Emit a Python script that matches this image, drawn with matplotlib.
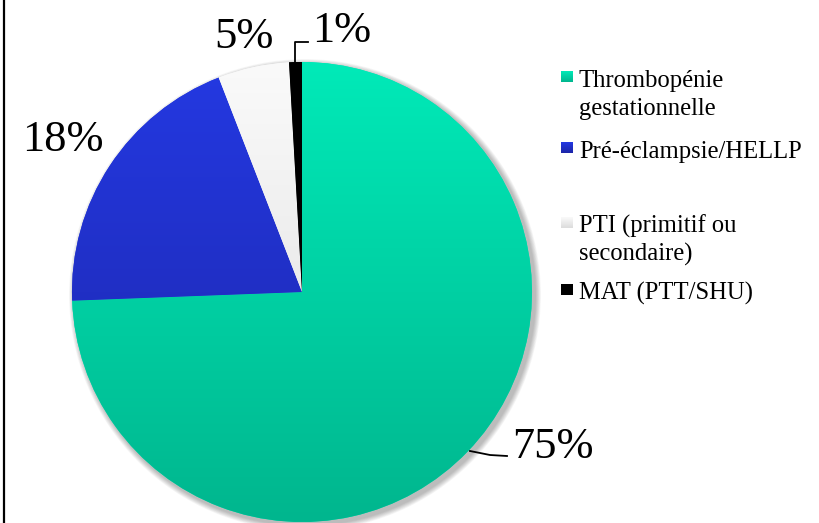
import numpy as np
import matplotlib
matplotlib.use("Agg")
from matplotlib import pyplot as plt
from matplotlib.patches import Circle
from matplotlib.colors import LinearSegmentedColormap
from matplotlib.lines import Line2D

# data
categories = ["Thrombopénie\ngestationnelle", "Pré-éclampsie/HELLP",
              "PTI (primitif ou\nsecondaire)", "MAT (PTT/SHU)"]
values = [74.4, 19.7, 5.0, 0.9]
pct_labels = ["75%", "18%", "5%", "1%"]

# gradient colours (top, bottom) per slice
top_cols = ["#00EAB8", "#2439E2", "#FAFAFA", "#000000"]
bot_cols = ["#00B68E", "#1C25A8", "#DCDCDC", "#000000"]

# layout, pixels (y measured from the top)
W, H = 820, 523
cx, cy, r = 302, 292, 230
pct_pos = [(512, 458), (22, 151), (214, 48), (312, 42)]
legend_base = [87, 158, 233, 300]
line_step = 27.5

plt.rcParams['font.family'] = ['Liberation Serif', 'DejaVu Serif']

fig = plt.figure(figsize=(W / 100, H / 100), dpi=100)
ax = fig.add_axes([0, 0, 1, 1])

def fy(y):
    return H - y

# soft shadow
for i in range(8):
    ax.add_patch(Circle((cx + 3, fy(cy) - 3), r + 1 + i * 0.7, color="#000000",
                        alpha=0.035, lw=0, zorder=0))

wedges, _ = ax.pie(values, colors=top_cols, startangle=90, counterclock=False,
                   center=(cx, fy(cy)), radius=r, wedgeprops=dict(linewidth=0))

for w, c1, c2 in zip(wedges, top_cols, bot_cols):
    cmap = LinearSegmentedColormap.from_list("g", [c2, c1])
    grad = np.linspace(1, 0, 256).reshape(-1, 1)
    im = ax.imshow(grad, cmap=cmap, extent=(cx - r, cx + r, fy(cy) - r, fy(cy) + r),
                   aspect="auto", interpolation="bilinear", zorder=2)
    im.set_clip_path(w)

# percentage labels
for lab, (x, y) in zip(pct_labels, pct_pos):
    ax.text(x, fy(y), lab, fontsize=32, ha="left", va="baseline", color="black", zorder=5)

# leader lines
ax.plot([470, 490, 507], [fy(451), fy(455), fy(456)], color="black", lw=1.3, zorder=5)
ax.plot([295, 295, 308], [fy(62), fy(42), fy(42)], color="black", lw=1.3, zorder=5)

# legend drawn by hand
for lab, base, c1, c2 in zip(categories, legend_base, top_cols, bot_cols):
    cmap = LinearSegmentedColormap.from_list("g", [c2, c1])
    grad = np.linspace(1, 0, 32).reshape(-1, 1)
    ax.imshow(grad, cmap=cmap, extent=(561, 573, fy(base - 5), fy(base - 16)),
              aspect="auto", interpolation="bilinear", zorder=3)
    for k, line in enumerate(lab.split("\n")):
        ax.text(579, fy(base + k * line_step), line, fontsize=17.7, ha="left",
                va="baseline", color="black", zorder=5)

ax.set_xlim(0, W)
ax.set_ylim(0, H)
ax.set_aspect("equal")
ax.axis("off")

# frame line on the left edge
fig.add_artist(Line2D([4.5 / W, 4.5 / W], [0, 1], color="black", lw=1.6))

plt.savefig("out.png", dpi=100)
print("Saved to out.png")
